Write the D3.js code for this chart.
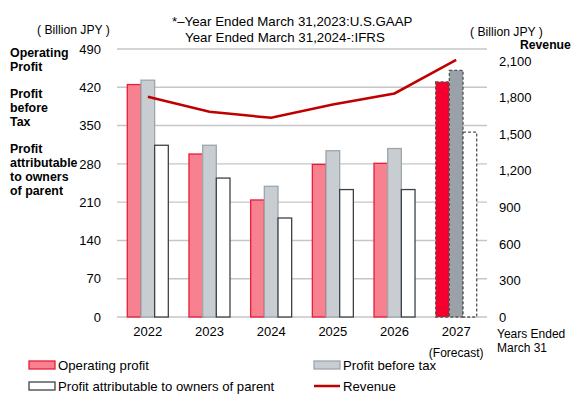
<!DOCTYPE html>
<html>
<head>
<meta charset="utf-8">
<script src="https://cdn.jsdelivr.net/npm/d3@7"></script>
<style>
  html, body { margin: 0; padding: 0; background: #fff; }
  svg { display: block; font-family: "Liberation Sans", Arial, sans-serif; }
</style>
</head>
<body>
<div id="chart"></div>
<script>
(function () {
  'use strict';

  // ── Data ───────────────────────────────────────────────
  var years = ['2022', '2023', '2024', '2025', '2026', '2027'];
  var operatingProfit = [425, 298, 214, 279, 281, 430];
  var profitBeforeTax = [433, 314, 239, 304, 308, 451];
  var profitAttributable = [314, 254, 181, 233, 233, 338];
  var revenue = [1808, 1685, 1635, 1745, 1835, 2110];
  var leftTicks = [0, 70, 140, 210, 280, 350, 420, 490];
  var rightTicks = [0, 300, 600, 900, 1200, 1500, 1800, 2100];
  var forecastYear = '2027';

  var W = 581, H = 416;
  var plot = { left: 117, right: 487, top: 49, bottom: 317 };

  var svg = d3.select('#chart').append('svg')
    .attr('width', W)
    .attr('height', H);

  var x = d3.scaleBand().domain(years).range([plot.left, plot.right]).paddingInner(0.335).paddingOuter(0.167);
  var xs = d3.scaleBand().domain([0, 1, 2]).range([0, x.bandwidth()]);
  var yL = d3.scaleLinear().domain([0, 490]).range([plot.bottom, plot.top]);
  var yR = d3.scaleLinear().domain([0, 2200]).range([plot.bottom, plot.top]);

  // ── Gridlines ──────────────────────────────────────────
  svg.append('g').selectAll('line')
    .data(leftTicks)
    .enter().append('line')
    .attr('x1', plot.left).attr('x2', plot.right)
    .attr('y1', function (d) { return yL(d); })
    .attr('y2', function (d) { return yL(d); })
    .attr('stroke', '#c6c6c6')
    .attr('stroke-width', 1.4);

  // ── Axes (text only) ───────────────────────────────────
  var leftAxis = svg.append('g')
    .attr('transform', 'translate(101,0)')
    .call(d3.axisLeft(yL).tickValues(leftTicks).tickSize(0).tickPadding(0));
  leftAxis.select('.domain').remove();
  leftAxis.selectAll('text').attr('font-size', 13).attr('fill', '#000')
    .attr('font-family', '"Liberation Sans", Arial, sans-serif');

  var rightAxis = svg.append('g')
    .attr('transform', 'translate(499,0)')
    .call(d3.axisRight(yR).tickValues(rightTicks).tickSize(0).tickPadding(0).tickFormat(d3.format(',')));
  rightAxis.select('.domain').remove();
  rightAxis.selectAll('text').attr('font-size', 13).attr('fill', '#000')
    .attr('font-family', '"Liberation Sans", Arial, sans-serif');

  var bottomAxis = svg.append('g')
    .attr('transform', 'translate(0,' + (plot.bottom + 10) + ')')
    .call(d3.axisBottom(x).tickSize(0).tickPadding(0));
  bottomAxis.select('.domain').remove();
  bottomAxis.selectAll('text').attr('font-size', 13).attr('fill', '#000')
    .attr('font-family', '"Liberation Sans", Arial, sans-serif');

  // ── Bars ───────────────────────────────────────────────
  var series = [
    { values: operatingProfit, fill: '#f7818f', stroke: '#ec1b3b', fillF: '#f5002e', strokeF: '#555' },
    { values: profitBeforeTax, fill: '#c8cdd1', stroke: '#9ea5ab', fillF: '#9aa1a8', strokeF: '#555' },
    { values: profitAttributable, fill: '#fff', stroke: '#3d4248', fillF: '#fff', strokeF: '#555' }
  ];

  series.forEach(function (s, i) {
    svg.append('g').selectAll('rect')
      .data(years)
      .enter().append('rect')
      .attr('x', function (d) { return x(d) + xs(i); })
      .attr('y', function (d, j) { return yL(s.values[j]); })
      .attr('width', xs.bandwidth())
      .attr('height', function (d, j) { return yL(0) - yL(s.values[j]); })
      .attr('fill', function (d) { return d === forecastYear ? s.fillF : s.fill; })
      .attr('stroke', function (d) { return d === forecastYear ? s.strokeF : s.stroke; })
      .attr('stroke-width', 1.3)
      .attr('stroke-dasharray', function (d) { return d === forecastYear ? '3,2' : null; });
  });

  // ── Revenue line ───────────────────────────────────────
  var line = d3.line()
    .x(function (d, i) { return x(years[i]) + x.bandwidth() / 2; })
    .y(function (d) { return yR(d); });

  svg.append('path')
    .datum(revenue)
    .attr('d', line)
    .attr('fill', 'none')
    .attr('stroke', '#c00000')
    .attr('stroke-width', 2.5);

  // ── Text labels ────────────────────────────────────────
  function label(txt, px, py, opts) {
    opts = opts || {};
    return svg.append('text')
      .attr('x', px).attr('y', py)
      .attr('font-size', opts.size || 12)
      .attr('font-weight', opts.bold ? 'bold' : null)
      .attr('text-anchor', opts.anchor || 'start')
      .attr('dominant-baseline', 'central')
      .attr('fill', '#000')
      .text(txt);
  }

  label('*\u2013Year Ended March 31,2023:U.S.GAAP', 172, 21, { size: 13.3 });
  label('Year Ended March 31,2024-:IFRS', 185, 37, { size: 13.3 });

  label('( Billion JPY )', 37, 30, { size: 12.2 });
  label('( Billion JPY )', 470, 32, { size: 12.2 });
  label('Revenue', 520, 45, { size: 12.2, bold: true });

  var leftNotes = [
    ['Operating', 53], ['Profit', 67],
    ['Profit', 94], ['before', 108], ['Tax', 122],
    ['Profit', 149], ['attributable', 163], ['to owners', 177], ['of parent', 191]
  ];
  leftNotes.forEach(function (n) { label(n[0], 10, n[1], { bold: true, size: 12.4 }); });

  label('(Forecast)', x(forecastYear) + x.bandwidth() / 2, 353, { size: 12, anchor: 'middle' });
  label('Years Ended', 497, 334, { size: 12 });
  label('March 31', 497, 348, { size: 12 });

  // ── Legend ─────────────────────────────────────────────
  var legend = [
    { name: 'Operating profit', x: 29, y: 365, fill: '#f7818f', stroke: '#ec1b3b' },
    { name: 'Profit before tax', x: 314, y: 365, fill: '#c8cdd1', stroke: '#9ea5ab' },
    { name: 'Profit attributable to owners of parent', x: 29, y: 386, fill: '#fff', stroke: '#3d4248' },
    { name: 'Revenue', x: 314, y: 386, line: '#c00000' }
  ];
  legend.forEach(function (l) {
    if (l.line) {
      svg.append('line')
        .attr('x1', l.x).attr('x2', l.x + 26)
        .attr('y1', l.y).attr('y2', l.y)
        .attr('stroke', l.line).attr('stroke-width', 2.5);
    } else {
      svg.append('rect')
        .attr('x', l.x).attr('y', l.y - 4)
        .attr('width', 26).attr('height', 8)
        .attr('fill', l.fill).attr('stroke', l.stroke).attr('stroke-width', 1.3);
    }
    label(l.name, l.x + 29, l.y, { size: 13.2 });
  });
})();
</script>
</body>
</html>
